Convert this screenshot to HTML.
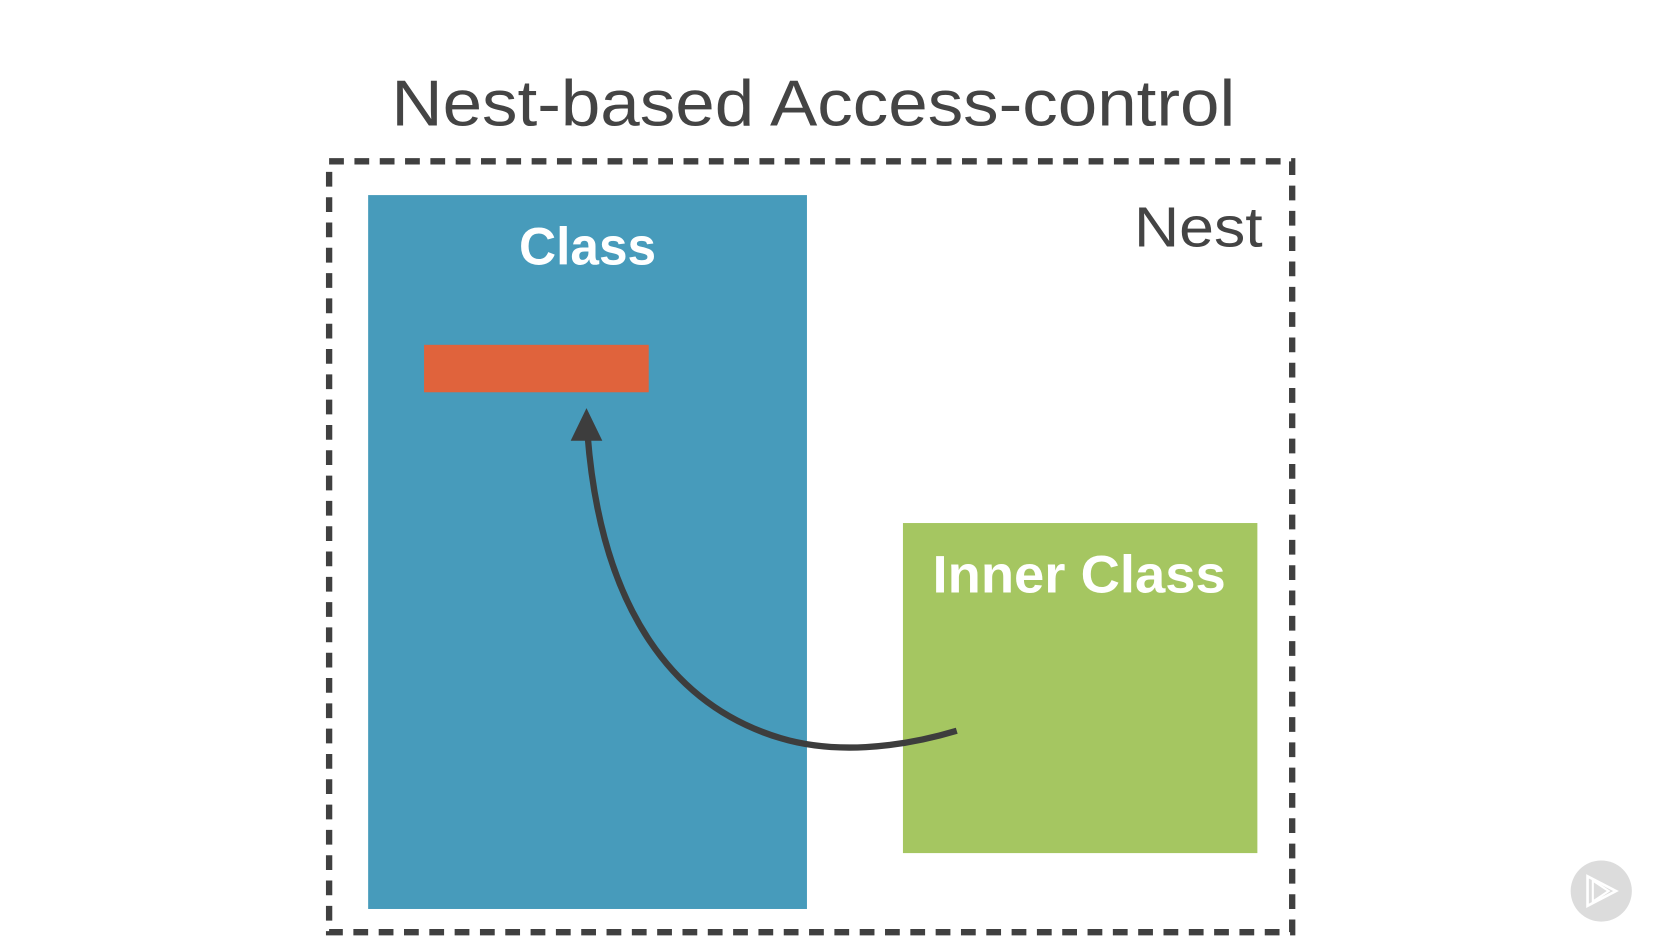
<!DOCTYPE html>
<html><head><meta charset="utf-8"><style>
html,body{margin:0;padding:0;background:#fff;overflow:hidden}
svg{display:block}
</style></head><body>
<svg width="1654" height="948" viewBox="0 0 1568 899" preserveAspectRatio="none" xmlns="http://www.w3.org/2000/svg">
<rect width="1568" height="899" fill="#fff"/>
<text x="771" y="119" text-anchor="middle" font-family="Liberation Sans, sans-serif" font-size="62" fill="#444" textLength="800" lengthAdjust="spacingAndGlyphs">Nest-based Access-control</text>
<rect x="312" y="153" width="913" height="731" fill="none" stroke="#404040" stroke-width="6" stroke-dasharray="14 10"/>
<rect x="349" y="185" width="416" height="677" fill="#479bbb"/>
<text x="557" y="251" text-anchor="middle" font-family="Liberation Sans, sans-serif" font-weight="bold" font-size="50" fill="#fff" textLength="130" lengthAdjust="spacingAndGlyphs">Class</text>
<rect x="402" y="327" width="213" height="45" fill="#e0633c"/>
<text x="1197" y="234" text-anchor="end" font-family="Liberation Sans, sans-serif" font-size="54" fill="#444" textLength="122" lengthAdjust="spacingAndGlyphs">Nest</text>
<rect x="856" y="496" width="336" height="313" fill="#a5c661"/>
<text x="1023" y="562" text-anchor="middle" font-family="Liberation Sans, sans-serif" font-weight="bold" font-size="50" fill="#fff" textLength="278" lengthAdjust="spacingAndGlyphs">Inner Class</text>
<path d="M907 693 C850 710 790 715 740 700 C640 670 570 580 557 412" fill="none" stroke="#3d3d3d" stroke-width="6"/>
<polygon points="556,387 541,418 571,418" fill="#3d3d3d"/>
<circle cx="1518" cy="845" r="29" fill="#dcdcdc"/>
<polygon points="1505,831 1505,859 1532,845" fill="none" stroke="#fff" stroke-width="2.5"/>
<polygon points="1510,835 1510,855 1525,845" fill="none" stroke="#fff" stroke-width="2"/>
</svg>
</body></html>
